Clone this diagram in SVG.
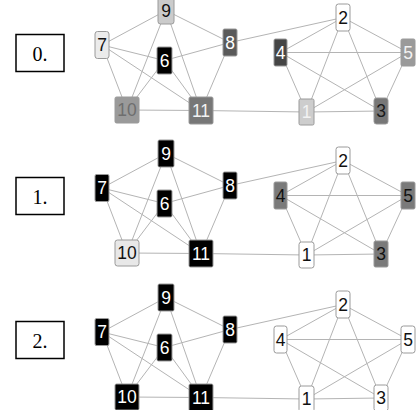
<svg xmlns="http://www.w3.org/2000/svg" width="418" height="410" viewBox="0 0 418 410">
<style>
.e{stroke:#b4b4b4;stroke-width:1;fill:none}
.n rect{stroke:#9a9a9a;stroke-width:1}
.n text{font-family:"Liberation Sans",Arial,sans-serif;font-size:17.5px;text-anchor:middle}
.lb rect{fill:#fff;stroke:#000;stroke-width:1.5}
.lb text{font-family:"Liberation Serif","Times New Roman",serif;font-size:20px;text-anchor:middle;fill:#000}
</style>
<rect width="418" height="410" fill="#fff"/>
<defs>
<g id="edges">
<line class="e" x1="166" y1="10.5" x2="102" y2="45"/>
<line class="e" x1="166" y1="10.5" x2="230" y2="42.5"/>
<line class="e" x1="166" y1="10.5" x2="127" y2="110"/>
<line class="e" x1="166" y1="10.5" x2="201" y2="110.5"/>
<line class="e" x1="102" y1="45" x2="164.5" y2="60.5"/>
<line class="e" x1="102" y1="45" x2="127" y2="110"/>
<line class="e" x1="102" y1="45" x2="201" y2="110.5"/>
<line class="e" x1="230" y1="42.5" x2="164.5" y2="60.5"/>
<line class="e" x1="230" y1="42.5" x2="201" y2="110.5"/>
<line class="e" x1="164.5" y1="60.5" x2="127" y2="110"/>
<line class="e" x1="164.5" y1="60.5" x2="201" y2="110.5"/>
<line class="e" x1="127" y1="110" x2="201" y2="110.5"/>
<line class="e" x1="230" y1="42.5" x2="343" y2="17.5"/>
<line class="e" x1="201" y1="110.5" x2="306.5" y2="112"/>
<line class="e" x1="343" y1="17.5" x2="280.5" y2="52.5"/>
<line class="e" x1="343" y1="17.5" x2="408" y2="52.5"/>
<line class="e" x1="343" y1="17.5" x2="306.5" y2="112"/>
<line class="e" x1="343" y1="17.5" x2="381" y2="111"/>
<line class="e" x1="280.5" y1="52.5" x2="408" y2="52.5"/>
<line class="e" x1="280.5" y1="52.5" x2="306.5" y2="112"/>
<line class="e" x1="280.5" y1="52.5" x2="381" y2="111"/>
<line class="e" x1="408" y1="52.5" x2="306.5" y2="112"/>
<line class="e" x1="408" y1="52.5" x2="381" y2="111"/>
<line class="e" x1="306.5" y1="112" x2="381" y2="111"/>
</g>
</defs>

<!-- Panel 0 -->
<g id="panel0">
<g id="connectors0"><use href="#edges"/></g>
<g id="label0" class="lb"><rect x="16" y="34.5" width="48" height="37"/><text x="40" y="61">0.</text></g>
<g id="p0-n9" class="n"><rect x="158" y="-3" width="16" height="27" rx="2.5" fill="#cbcbcb"/><text x="166" y="16.7" fill="#111">9</text></g>
<g id="p0-n7" class="n"><rect x="95" y="31.5" width="14" height="27" rx="2.5" fill="#ebebeb"/><text x="102" y="51.2" fill="#111">7</text></g>
<g id="p0-n8" class="n"><rect x="223" y="29" width="14" height="27" rx="1.5" fill="#5a5a5a"/><text x="230" y="48.7" fill="#fff">8</text></g>
<g id="p0-n6" class="n"><rect x="157" y="47" width="15" height="27" rx="1.5" fill="#000"/><text x="164.5" y="66.7" fill="#fff">6</text></g>
<g id="p0-n10" class="n"><rect x="115" y="97" width="24" height="26" rx="1.5" fill="#9a9a9a"/><text x="127" y="116.2" fill="#6e6e6e">10</text></g>
<g id="p0-n11" class="n"><rect x="189" y="97" width="24" height="27" rx="1.5" fill="#777"/><text x="201" y="116.7" fill="#f2f2f2">11</text></g>
<g id="p0-n2" class="n"><rect x="336" y="4" width="14" height="27" rx="2.5" fill="#fff"/><text x="343" y="23.7" fill="#111">2</text></g>
<g id="p0-n4" class="n"><rect x="274" y="39" width="13" height="27" rx="1.5" fill="#454545"/><text x="280.5" y="58.7" fill="#fff">4</text></g>
<g id="p0-n5" class="n"><rect x="401" y="39" width="14" height="27" rx="1.5" fill="#9a9a9a"/><text x="408" y="58.7" fill="#f2f2f2">5</text></g>
<g id="p0-n1" class="n"><rect x="299" y="99" width="15" height="26" rx="1.5" fill="#cdcdcd"/><text x="306.5" y="118.2" fill="#f2f2f2">1</text></g>
<g id="p0-n3" class="n"><rect x="374" y="98" width="14" height="26" rx="2.5" fill="#777"/><text x="381" y="117.2" fill="#1a1a1a">3</text></g>
</g>

<!-- Panel 1 -->
<g id="panel1" transform="translate(0,143)">
<g id="connectors1"><use href="#edges"/></g>
<g id="label1" class="lb"><rect x="16" y="34.5" width="48" height="37"/><text x="40" y="61">1.</text></g>
<g id="p1-n9" class="n"><rect x="158" y="-3" width="16" height="27" rx="1.5" fill="#000"/><text x="166" y="16.7" fill="#fff">9</text></g>
<g id="p1-n7" class="n"><rect x="95" y="31.5" width="14" height="27" rx="1.5" fill="#000"/><text x="102" y="51.2" fill="#fff">7</text></g>
<g id="p1-n8" class="n"><rect x="223" y="29" width="14" height="27" rx="1.5" fill="#000"/><text x="230" y="48.7" fill="#fff">8</text></g>
<g id="p1-n6" class="n"><rect x="157" y="47" width="15" height="27" rx="1.5" fill="#000"/><text x="164.5" y="66.7" fill="#fff">6</text></g>
<g id="p1-n10" class="n"><rect x="115" y="97" width="24" height="26" rx="2.5" fill="#e8e8e8"/><text x="127" y="116.2" fill="#111">10</text></g>
<g id="p1-n11" class="n"><rect x="189" y="97" width="24" height="27" rx="1.5" fill="#000"/><text x="201" y="116.7" fill="#fff">11</text></g>
<g id="p1-n2" class="n"><rect x="336" y="4" width="14" height="27" rx="2.5" fill="#fff"/><text x="343" y="23.7" fill="#111">2</text></g>
<g id="p1-n4" class="n"><rect x="274" y="39" width="13" height="27" rx="1.5" fill="#7a7a7a"/><text x="280.5" y="58.7" fill="#111">4</text></g>
<g id="p1-n5" class="n"><rect x="401" y="39" width="14" height="27" rx="1.5" fill="#7a7a7a"/><text x="408" y="58.7" fill="#111">5</text></g>
<g id="p1-n1" class="n"><rect x="299" y="99" width="15" height="26" rx="2.5" fill="#fff"/><text x="306.5" y="118.2" fill="#111">1</text></g>
<g id="p1-n3" class="n"><rect x="374" y="98" width="14" height="26" rx="1.5" fill="#7a7a7a"/><text x="381" y="117.2" fill="#111">3</text></g>
</g>

<!-- Panel 2 -->
<g id="panel2" transform="translate(0,287)">
<g id="connectors2"><use href="#edges"/></g>
<g id="label2" class="lb"><rect x="16" y="34.5" width="48" height="37"/><text x="40" y="61">2.</text></g>
<g id="p2-n9" class="n"><rect x="158" y="-3" width="16" height="27" rx="1.5" fill="#000"/><text x="166" y="16.7" fill="#fff">9</text></g>
<g id="p2-n7" class="n"><rect x="95" y="31.5" width="14" height="27" rx="1.5" fill="#000"/><text x="102" y="51.2" fill="#fff">7</text></g>
<g id="p2-n8" class="n"><rect x="223" y="29" width="14" height="27" rx="1.5" fill="#000"/><text x="230" y="48.7" fill="#fff">8</text></g>
<g id="p2-n6" class="n"><rect x="157" y="47" width="15" height="27" rx="1.5" fill="#000"/><text x="164.5" y="66.7" fill="#fff">6</text></g>
<g id="p2-n10" class="n"><rect x="115" y="97" width="24" height="26" rx="1.5" fill="#000"/><text x="127" y="116.2" fill="#fff">10</text></g>
<g id="p2-n11" class="n"><rect x="189" y="97" width="24" height="27" rx="1.5" fill="#000"/><text x="201" y="116.7" fill="#fff">11</text></g>
<g id="p2-n2" class="n"><rect x="336" y="4" width="14" height="27" rx="2.5" fill="#fff"/><text x="343" y="23.7" fill="#111">2</text></g>
<g id="p2-n4" class="n"><rect x="274" y="39" width="13" height="27" rx="2.5" fill="#fff"/><text x="280.5" y="58.7" fill="#111">4</text></g>
<g id="p2-n5" class="n"><rect x="401" y="39" width="14" height="27" rx="2.5" fill="#fff"/><text x="408" y="58.7" fill="#111">5</text></g>
<g id="p2-n1" class="n"><rect x="299" y="99" width="15" height="26" rx="2.5" fill="#fff"/><text x="306.5" y="118.2" fill="#111">1</text></g>
<g id="p2-n3" class="n"><rect x="374" y="98" width="14" height="26" rx="2.5" fill="#fff"/><text x="381" y="117.2" fill="#111">3</text></g>
</g>
</svg>
